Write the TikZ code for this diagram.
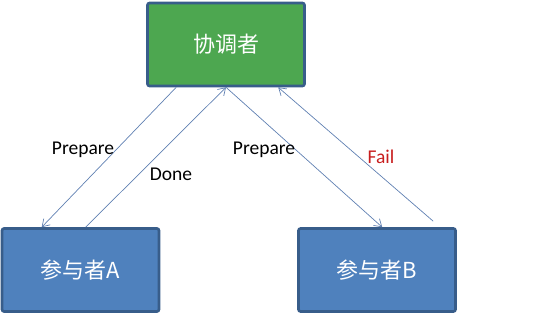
\documentclass[tikz,border=0pt]{standalone}
\usepackage{fontspec}
\setmainfont{Carlito}
\newfontfamily\cjk{Noto Sans CJK SC}
\usetikzlibrary{positioning,calc}
\usetikzlibrary{arrows.meta}
\definecolor{CoordGreen}{RGB}{77,167,80}
\definecolor{PartBlue}{RGB}{79,129,189}
\definecolor{EdgeNavy}{RGB}{56,93,138}
\definecolor{MsgBlue}{RGB}{96,128,178}
\definecolor{FailRed}{RGB}{200,30,30}
\tikzset{
  box/.style={draw=EdgeNavy,line width=2.6pt,rounded corners=2pt,
    minimum width=157pt,minimum height=83pt,text=white,font=\cjk\fontsize{22}{25}\selectfont},
  msg/.style={draw=MsgBlue,line width=0.7pt,-{Straight Barb[length=7pt,width=9pt]}},
  lbl/.style={font=\fontsize{19.5}{22}\selectfont,text=black},
}
\begin{document}
\begin{tikzpicture}[x=1pt,y=-1pt]
\useasboundingbox (0,0) rectangle (533,315);
\node[box,fill=CoordGreen] (coord) at (226,44.5) {协调者};
\node[box,fill=PartBlue] (pA) at (80.5,270) {参与者A};
\node[box,fill=PartBlue] (pB) at (377,270) {参与者B};
\draw[msg] ([xshift=30pt]coord.south west) -- ([xshift=41pt]pA.north west);
\draw[msg] ([xshift=85pt]pA.north west) -- (coord.south);
\draw[msg] (coord.south) -- ([xshift=85pt]pB.north west);
\draw[msg] ([xshift=136pt,yshift=6pt]pB.north west) -- ([xshift=132pt]coord.south west);
\node[lbl] (prepA) at (83,150) {Prepare};
\node[lbl] (done) at (171,174) {Done};
\node[lbl] (prepB) at (264,150) {Prepare};
\node[lbl,text=FailRed] (fail) at (381,157) {Fail};
\end{tikzpicture}
\end{document}
